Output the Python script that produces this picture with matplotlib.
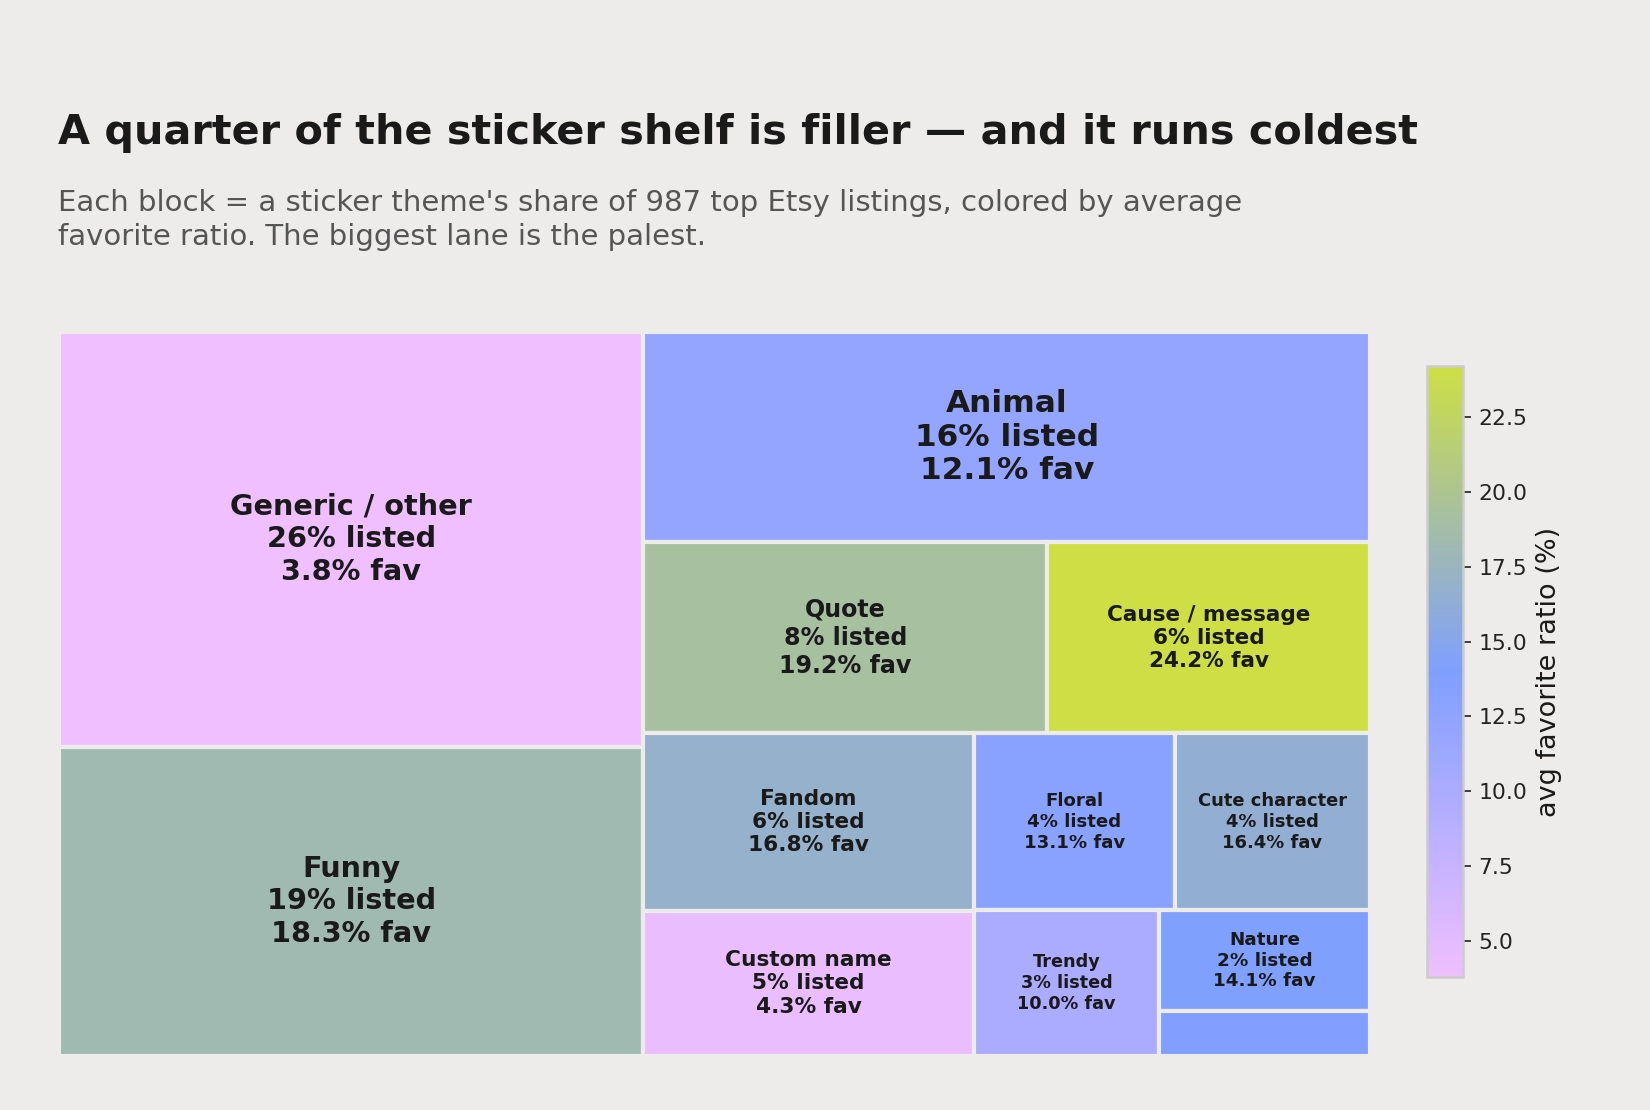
import numpy as np
import matplotlib
matplotlib.use('agg')
import matplotlib.pyplot as plt
from matplotlib.colors import LinearSegmentedColormap, Normalize
from matplotlib.patches import Rectangle

plt.rcParams['font.family'] = 'DejaVu Sans'

# data: sticker themes in 987 top Etsy listings
themes = ['Generic / other', 'Funny', 'Animal', 'Quote', 'Cause / message',
          'Fandom', 'Custom name', 'Floral', 'Cute character', 'Trendy',
          'Nature', 'Seasonal']
counts = [252, 188, 159, 80, 64, 61, 50, 37, 36, 28, 22, 10]
fav_ratio = [3.8, 18.3, 12.1, 19.2, 24.2, 16.8, 4.3, 13.1, 16.4, 10.0, 14.1, 13.9]
cbar_ticks = [5.0, 7.5, 10.0, 12.5, 15.0, 17.5, 20.0, 22.5]

BG = '#edecea'
INK = '#1a1a1a'


# squarify (same scheme as the squarify package)
def layoutrow(sizes, x, y, dx, dy):
    width = sum(sizes) / dy
    rects = []
    for s in sizes:
        rects.append((x, y, width, s / width))
        y += s / width
    return rects


def layoutcol(sizes, x, y, dx, dy):
    height = sum(sizes) / dx
    rects = []
    for s in sizes:
        rects.append((x, y, s / height, height))
        x += s / height
    return rects


def layout(sizes, x, y, dx, dy):
    return layoutrow(sizes, x, y, dx, dy) if dx >= dy else layoutcol(sizes, x, y, dx, dy)


def leftover(sizes, x, y, dx, dy):
    if dx >= dy:
        width = sum(sizes) / dy
        return x + width, y, dx - width, dy
    height = sum(sizes) / dx
    return x, y + height, dx, dy - height


def worst_ratio(sizes, x, y, dx, dy):
    return max(max(w / h, h / w) for (_, _, w, h) in layout(sizes, x, y, dx, dy))


def squarify(sizes, x, y, dx, dy):
    if len(sizes) == 0:
        return []
    if len(sizes) == 1:
        return layout(sizes, x, y, dx, dy)
    i = 1
    while i < len(sizes) and worst_ratio(sizes[:i], x, y, dx, dy) >= worst_ratio(sizes[:i + 1], x, y, dx, dy):
        i += 1
    cur, rest = sizes[:i], sizes[i:]
    lx, ly, ldx, ldy = leftover(cur, x, y, dx, dy)
    return layout(cur, x, y, dx, dy) + squarify(rest, lx, ly, ldx, ldy)


total = sum(counts)
norm_sizes = [c * 100 * 100 / total for c in counts]
rects = squarify(norm_sizes, 0, 0, 100, 100)

cmap = LinearSegmentedColormap.from_list('stk', ['#efbfff', '#7f9fff', '#cddf45'])
norm = Normalize(vmin=min(fav_ratio), vmax=max(fav_ratio))

fig = plt.figure(figsize=(11, 7.4), dpi=150, facecolor=BG)
ax_box = [0.0358, 0.0485, 0.7945, 0.6525]
ax = fig.add_axes(ax_box)
ax.set_facecolor(BG)
ax.set_xlim(0, 100)
ax.set_ylim(100, 0)
ax.axis('off')

ax_px_w = ax_box[2] * 11 * 150
ax_px_h = ax_box[3] * 7.4 * 150

for (x, y, w, h), name, c, fav in zip(rects, themes, counts, fav_ratio):
    ax.add_patch(Rectangle((x, y), w, h, facecolor=cmap(norm(fav)),
                           edgecolor=BG, linewidth=2))
    wpx = w / 100 * ax_px_w
    hpx = h / 100 * ax_px_h
    if hpx < 60:
        continue
    fs = min(15, 6 + wpx / 75)
    pct = 100 * c / total
    ax.text(x + w / 2, y + h / 2, f'{name}\n{pct:.0f}% listed\n{fav:.1f}% fav',
            ha='center', va='center', fontsize=fs, fontweight='bold',
            color=INK, linespacing=1.2)

# colorbar
cax = fig.add_axes([0.8648, 0.1198, 0.0218, 0.5505])
sm = plt.cm.ScalarMappable(norm=norm, cmap=cmap)
cb = fig.colorbar(sm, cax=cax, ticks=cbar_ticks)
cb.outline.set_edgecolor('#cccccc')
cb.outline.set_linewidth(1.2)
cb.ax.tick_params(labelsize=10.5, colors='#222222', length=4)
cb.set_label('avg favorite ratio (%)', fontsize=13, color=INK)

fig.text(0.035, 0.870, 'A quarter of the sticker shelf is filler — and it runs coldest',
         fontsize=19.85, fontweight='bold', color=INK, ha='left', va='baseline')
fig.text(0.035, 0.830,
         "Each block = a sticker theme's share of 987 top Etsy listings, colored by average\n"
         "favorite ratio. The biggest lane is the palest.",
         fontsize=14, color='#555555', ha='left', va='top', linespacing=1.3)

fig.savefig('out.png', dpi=150, facecolor=BG)
